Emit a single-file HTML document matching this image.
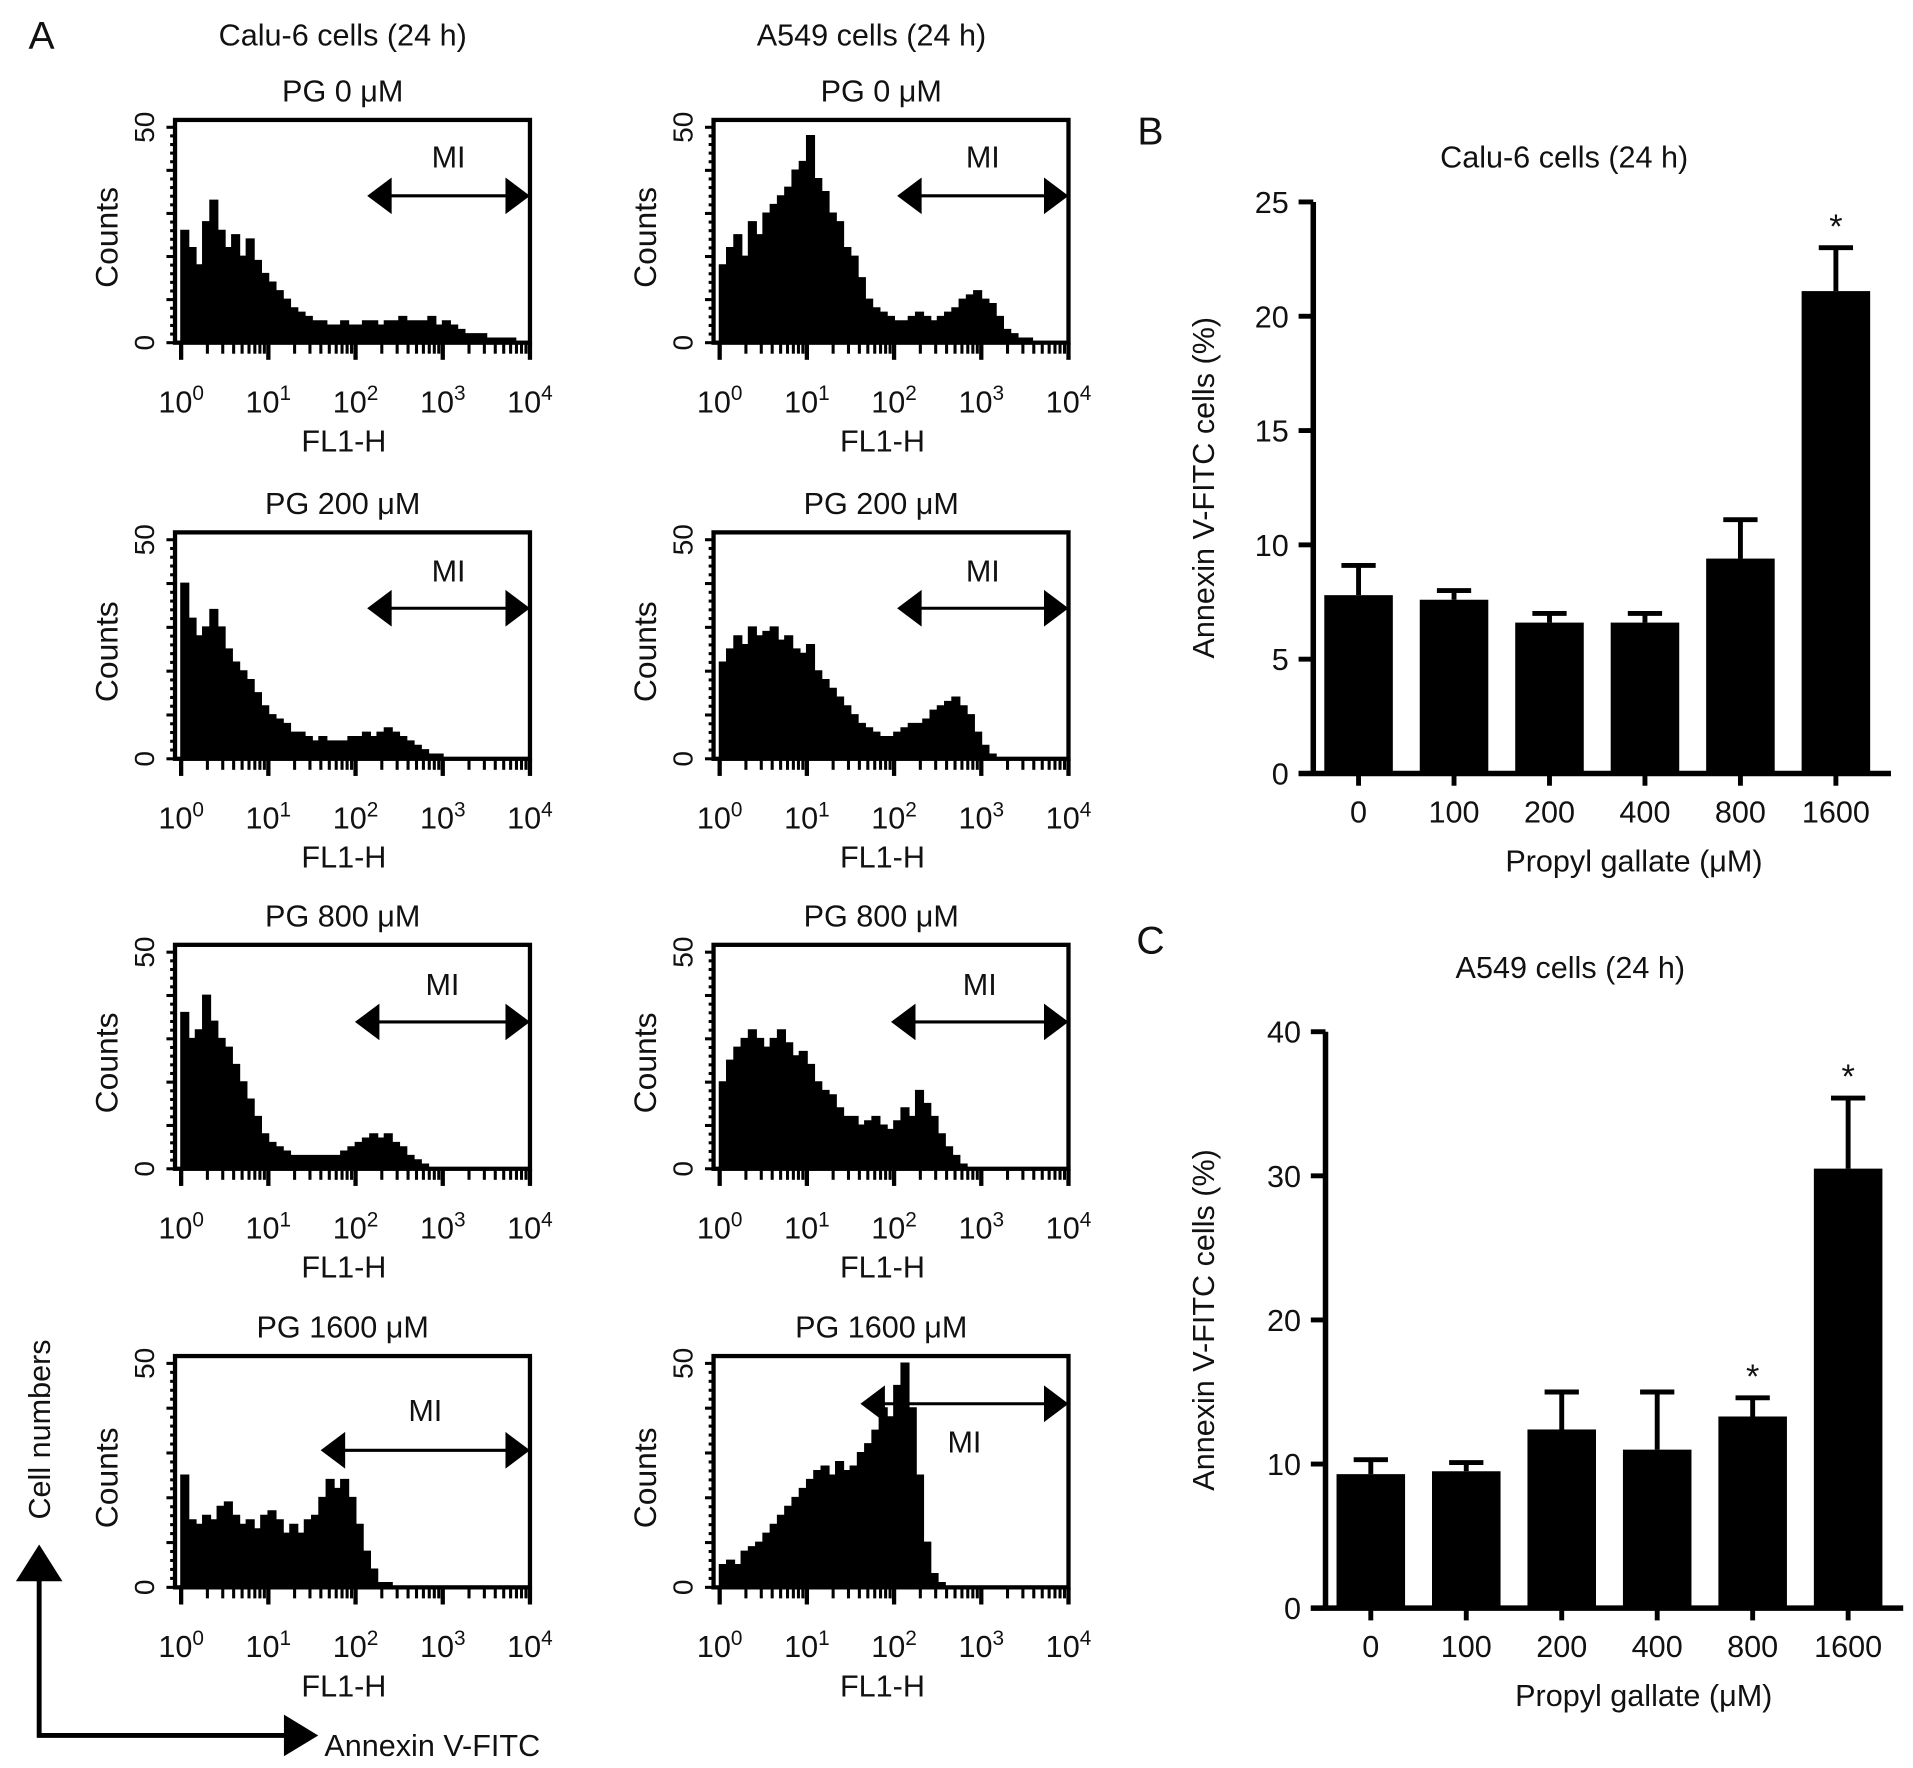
<!DOCTYPE html>
<html><head><meta charset="utf-8">
<style>
html,body{margin:0;padding:0;background:#fff;}
svg{display:block;}
text{font-family:"Liberation Sans",sans-serif;fill:#111;}
</style></head>
<body>
<svg id="fig" width="1913" height="1768" viewBox="0 0 1563 1444.6" preserveAspectRatio="none" xmlns="http://www.w3.org/2000/svg"></svg>
<script>
// ---------- histogram data (counts per bin, 12 bins per decade, 10^0..10^4) ----------
const calu0 = [26,22,18,28,33,26,22,25,20,24,19,16,14,12,10,8,7,6,5,5,4,4,5,4,4,5,5,4,5,5,6,5,5,5,6,4,5,4,3,2,2,2,1,1,1,1,0,0];
const calu200 = [40,32,28,30,34,30,25,22,20,18,15,12,10,9,8,6,6,5,4,5,4,4,4,5,5,6,5,6,7,6,5,4,3,2,1,1,0,0,0,0,0,0,0,0,0,0,0,0];
const calu800 = [36,30,32,40,34,30,28,24,20,16,12,8,6,5,4,3,3,3,3,3,3,3,4,5,6,7,8,7,8,6,5,3,2,1,0,0,0,0,0,0,0,0,0,0,0,0,0,0];
const calu1600 = [25,15,14,16,15,18,19,16,14,15,13,16,17,15,12,14,12,15,16,20,24,22,24,20,14,8,4,1,1,0,0,0,0,0,0,0,0,0,0,0,0,0,0,0,0,0,0,0];
const a549_0 = [18,22,25,20,28,25,30,32,34,36,40,42,48,38,35,30,28,22,20,15,10,8,7,6,5,5,6,7,6,5,6,7,8,10,11,12,10,9,6,3,2,1,1,0,0,0,0,0];
const a549_200 = [22,25,28,26,30,28,29,30,27,28,25,24,26,20,18,16,14,12,10,8,7,6,5,5,6,7,8,8,9,11,12,13,14,12,10,6,3,1,0,0,0,0,0,0,0,0,0,0];
const a549_800 = [20,25,28,30,32,30,28,30,32,29,26,27,24,20,18,17,14,12,12,10,11,12,10,9,11,14,12,18,15,12,8,5,3,1,0,0,0,0,0,0,0,0,0,0,0,0,0,0];
const a549_1600 = [5,6,5,8,9,10,12,14,16,18,20,22,24,26,27,25,28,26,27,30,32,35,40,38,45,50,40,25,10,3,1,0,0,0,0,0,0,0,0,0,0,0,0,0,0,0,0,0];
const histTitles = ["PG 0 \u03bcM","PG 200 \u03bcM","PG 800 \u03bcM","PG 1600 \u03bcM"];
const decadeLabels = ["0","1","2","3","4"];

// ---------- bar chart data ----------
const doses = ["0","100","200","400","800","1600"];
const caluMean = [7.8,7.6,6.6,6.6,9.4,21.1];
const caluErr = [9.1,8.0,7.0,7.0,11.1,23.0];
const caluStar = [false,false,false,false,false,true];
const caluTicks = [0,5,10,15,20,25];
const a549Mean = [9.3,9.5,12.4,11.0,13.3,30.5];
const a549Err = [10.3,10.1,15.0,15.0,14.6,35.4];
const a549Star = [false,false,false,false,true,true];
const a549Ticks = [0,10,20,30,40];

const NS="http://www.w3.org/2000/svg";
const svg=document.getElementById('fig');
function el(tag,attrs,parent,txt){const e=document.createElementNS(NS,tag);for(const k in attrs)e.setAttribute(k,attrs[k]);if(txt!==undefined)e.textContent=txt;(parent||svg).appendChild(e);return e;}

let t;
t=el('text',{x:34,y:40,'font-size':32,'text-anchor':'middle'},svg,'A');


t=el('text',{x:280,y:37,'font-size':25,'text-anchor':'middle'},svg,'Calu-6 cells (24 h)');


t=el('text',{x:712,y:37,'font-size':25,'text-anchor':'middle'},svg,'A549 cells (24 h)');



const histData=[[calu0,calu200,calu800,calu1600],[a549_0,a549_200,a549_800,a549_1600]];
const colX=[143,583];
const rowTop=[98,435,772,1108];
const rowZero=[280,620,955,1297];
const miGeom=[[[300,160,128],[300,497,466],[290,835,804],[262,1185,1152]],[[733,160,128],[733,497,466],[728,835,804],[703,1147,1178]]];

for(let c=0;c<2;c++){for(let r=0;r<4;r++){
  const g=el('g',{});
  
  
  const x0=colX[c],x1=x0+290,top=rowTop[r],zero=rowZero[r];
  const xs=v=>x0+5+v*(x1-x0-5)/48;
  const ys=v=>zero-v/50*(zero-top-6);
  const d=histData[c][r];
  let p='M'+xs(0)+' '+zero;
  for(let i=0;i<d.length;i++){p+=' L'+xs(i)+' '+ys(d[i])+' L'+xs(i+1)+' '+ys(d[i]);}
  p+=' L'+xs(d.length)+' '+zero+' Z';
  const area=el('path',{d:p,fill:'#000',stroke:'#000','stroke-width':1.5},g);
  
  
  const box=el('rect',{x:x0,y:top,width:x1-x0,height:zero-top,fill:'none',stroke:'#000','stroke-width':3.5},g);
  
  
  for(let k=0;k<=25;k++){const yy=ys(k*2);el('line',{x1:x0-(k%5==0?7:4),x2:x0,y1:yy,y2:yy,stroke:'#000','stroke-width':2.5},g);}
  for(let dcd=0;dcd<=4;dcd++){
    const xx=x0+5+dcd*(x1-x0-5)/4;
    el('line',{x1:xx,x2:xx,y1:zero,y2:zero+14,stroke:'#000','stroke-width':3.5},g);
    if(dcd<4)for(let m=2;m<10;m++){const xm=xx+Math.log10(m)*(x1-x0-5)/4;el('line',{x1:xm,x2:xm,y1:zero,y2:zero+9,stroke:'#000','stroke-width':2.5},g);}
    const lt=el('text',{x:xx,y:zero+57,'font-size':25,'text-anchor':'middle'},g);
    
    
    el('tspan',{},lt,'10');el('tspan',{dy:-10,'font-size':17},lt,decadeLabels[dcd]);
  }
  const fl=el('text',{x:x0+138,y:zero+89,'font-size':25,'text-anchor':'middle'},g,'FL1-H');
  
  
  const ti=el('text',{x:x0+137,y:top-15,'font-size':25,'text-anchor':'middle'},g,histTitles[r]);
  
  
  let yl=el('text',{x:0,y:0,'font-size':23,'text-anchor':'middle',transform:`translate(${x0-17},${ys(50)}) rotate(-90)`},g,'50');
  
  
  yl=el('text',{x:0,y:0,'font-size':23,'text-anchor':'middle',transform:`translate(${x0-17},${zero}) rotate(-90)`},g,'0');
  
  
  yl=el('text',{x:0,y:0,'font-size':26,'text-anchor':'middle',transform:`translate(${x0-47},${(top+zero)/2+5}) rotate(-90)`},g,'Counts');
  
  
  const [mx,my,mly]=miGeom[c][r];
  const mi=el('g',{},g);
  
  
  el('line',{x1:mx+10,x2:x1-10,y1:my,y2:my,stroke:'#000','stroke-width':2.5},mi);
  el('polygon',{points:`${mx},${my} ${mx+20},${my-15} ${mx+20},${my+15}`,fill:'#000'},mi);
  el('polygon',{points:`${x1},${my} ${x1-20},${my-15} ${x1-20},${my+15}`,fill:'#000'},mi);
  el('text',{x:(mx+x1)/2,y:mly+9,'font-size':25,'text-anchor':'middle'},mi,'MI');
}}

const ax=el('g',{});


el('polyline',{points:'32,1288 32,1418 250,1418',fill:'none',stroke:'#000','stroke-width':4},ax);
el('polygon',{points:'32,1262 13,1292 51,1292',fill:'#000'},ax);
el('polygon',{points:'260,1418 232,1401 232,1435',fill:'#000'},ax);
el('text',{x:0,y:0,'font-size':25,'text-anchor':'middle',transform:'translate(41,1168) rotate(-90)'},ax,'Cell numbers');
el('text',{x:265,y:1435,'font-size':25},ax,'Annexin V-FITC');

function barChart(cfg,mean,err,star,ticks){
  const g=el('g',{});
  
  
  const ymax=ticks[ticks.length-1];
  const ys=v=>cfg.y0-v/ymax*(cfg.y0-cfg.ytop);
  const xs=i=>cfg.xfirst+i*cfg.step;
  let lt=el('text',{x:cfg.lx,y:cfg.ly,'font-size':32,'text-anchor':'middle'},g,cfg.letter);
  
  
  lt=el('text',{x:cfg.tx,y:cfg.ty,'font-size':25,'text-anchor':'middle'},g,cfg.title);
  
  
  for(let i=0;i<mean.length;i++){
    const b=el('rect',{x:xs(i)-28,y:ys(mean[i]),width:56,height:cfg.y0-ys(mean[i]),fill:'#000'},g);
    
    
    const e=el('path',{d:`M${xs(i)} ${ys(mean[i])} V${ys(err[i])} M${xs(i)-14} ${ys(err[i])} H${xs(i)+14}`,stroke:'#000','stroke-width':4,fill:'none'},g);
    
    
    if(star[i]){const s=el('text',{x:xs(i),y:ys(err[i])-8,'font-size':28,'text-anchor':'middle'},g,'*');
      
      }
    const xl=el('text',{x:xs(i),y:cfg.y0+40,'font-size':25,'text-anchor':'middle'},g,doses[i]);
    
    
    el('line',{x1:xs(i),x2:xs(i),y1:cfg.y0,y2:cfg.y0+10,stroke:'#000','stroke-width':4},g);
  }
  el('line',{x1:cfg.ax,x2:cfg.ax,y1:cfg.ytop,y2:cfg.y0,stroke:'#000','stroke-width':4.5},g);
  el('line',{x1:cfg.ax-12,x2:cfg.xend,y1:cfg.y0,y2:cfg.y0,stroke:'#000','stroke-width':4.5},g);
  for(const tv of ticks){
    el('line',{x1:cfg.ax-12,x2:cfg.ax,y1:ys(tv),y2:ys(tv),stroke:'#000','stroke-width':4},g);
    const yl=el('text',{x:cfg.ax-20,y:ys(tv)+9,'font-size':25,'text-anchor':'end'},g,String(tv));
    
    
  }
  let at=el('text',{x:0,y:0,'font-size':25,'text-anchor':'middle',transform:`translate(${cfg.ylx},${(cfg.ytop+cfg.y0)/2}) rotate(-90)`},g,'Annexin V-FITC cells (%)');
  
  
  at=el('text',{x:cfg.xlx,y:cfg.y0+80,'font-size':25,'text-anchor':'middle'},g,'Propyl gallate (\u03bcM)');
  
  
}
barChart({name:'calu6-bar-chart',letter:'B',lx:940,ly:118,title:'Calu-6 cells (24 h)',tx:1278,ty:137,ax:1073,y0:632,ytop:165,xfirst:1110,step:78,xend:1545,ylx:992,xlx:1335},caluMean,caluErr,caluStar,caluTicks);
barChart({name:'a549-bar-chart',letter:'C',lx:940,ly:779,title:'A549 cells (24 h)',tx:1283,ty:799,ax:1083,y0:1314,ytop:843,xfirst:1120,step:78,xend:1555,ylx:992,xlx:1343},a549Mean,a549Err,a549Star,a549Ticks);
</script>
</body></html>
